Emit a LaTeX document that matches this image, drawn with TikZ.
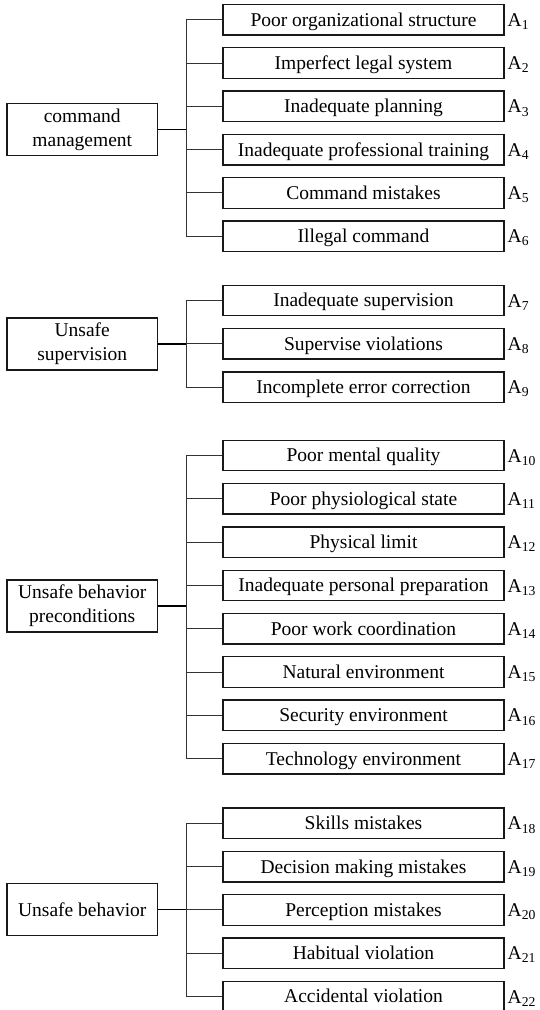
\documentclass[tikz,border=0pt]{standalone}
\usepackage{fontspec}
\setmainfont{Liberation Serif}
\begin{document}
\begin{tikzpicture}[x=1pt,y=-1pt,
  leaf/.style={draw=black!90, line width=1.3pt, minimum width=281pt, minimum height=30.5pt,
    inner sep=0pt, text height=13.2pt, text depth=0.4pt, font=\fontsize{19.5}{24}\selectfont},
  group/.style={draw=black!90, line width=1.3pt, minimum width=150.5pt, minimum height=52pt,
    inner sep=0pt, align=center, font=\fontsize{19.5}{24}\selectfont},
  lab/.style={anchor=base west, inner sep=0pt, font=\fontsize{19.5}{24}\selectfont},
  stem/.style={draw=black, line width=1.4pt},
  branch/.style={draw=black!80, line width=1pt}]
\useasboundingbox (0,0) rectangle (539,1010);
\fill[white] (0,0) rectangle (539,1010);
\coordinate (tx) at (186,0);
% group 1
\node[group] (g1) at (82.25,129.5) {command\\management};
\foreach \i/\t [count=\k from 0] in {1/Poor organizational structure,2/Imperfect legal system,3/Inadequate planning,4/Inadequate professional training,5/Command mistakes,6/Illegal command}{
  \node[leaf] (a\i) at (363.5,19.7+43.3*\k) {\t};
  \node[lab] (l\i) at (507.5,19.7+43.3*\k+6.6) {A\textsubscript{\i}};
}
% group 2
\node[group] (g2) at (82.25,344) {Unsafe\\supervision};
\foreach \i/\t [count=\k from 0] in {7/Inadequate supervision,8/Supervise violations,9/Incomplete error correction}{
  \node[leaf] (a\i) at (363.5,300.5+43.3*\k) {\t};
  \node[lab] (l\i) at (507.5,300.5+43.3*\k+6.6) {A\textsubscript{\i}};
}
% group 3
\node[group] (g3) at (82.25,606) {Unsafe behavior\\preconditions};
\foreach \i/\t [count=\k from 0] in {10/Poor mental quality,11/Poor physiological state,12/Physical limit,13/Inadequate personal preparation,14/Poor work coordination,15/Natural environment,16/Security environment,17/Technology environment}{
  \node[leaf] (a\i) at (363.5,455.5+43.3*\k) {\t};
  \node[lab] (l\i) at (507.5,455.5+43.3*\k+6.6) {A\textsubscript{\i}};
}
% group 4
\node[group] (g4) at (82.25,909.5) {Unsafe behavior};
\foreach \i/\t [count=\k from 0] in {18/Skills mistakes,19/Decision making mistakes,20/Perception mistakes,21/Habitual violation,22/Accidental violation}{
  \node[leaf] (a\i) at (363.5,823.3+43.3*\k) {\t};
  \node[lab] (l\i) at (507.5,823.3+43.3*\k+6.6) {A\textsubscript{\i}};
}
% connectors
\foreach \g/\list in {g1/{1,2,3,4,5,6},g2/{7,8,9},g3/{10,11,12,13,14,15,16,17},g4/{18,19,20,21,22}}{
  \draw[stem] (\g.east) -- (\g.east -| tx);
  \foreach \j in \list {
    \draw[branch] (\g.east -| tx) |- (a\j.west);
  }
}
\end{tikzpicture}
\end{document}
